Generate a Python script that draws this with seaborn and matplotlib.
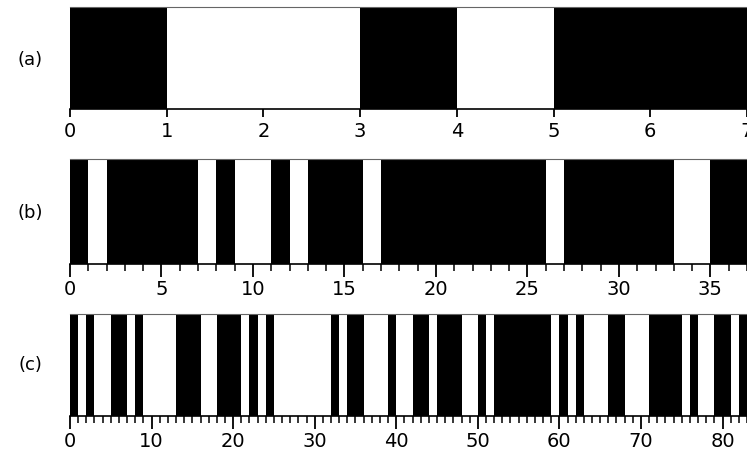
import numpy as np
import seaborn as sns
import matplotlib
matplotlib.use('Agg')
import matplotlib.pyplot as plt
from matplotlib.colors import ListedColormap

# Sequence lengths and the cells that are white (all other cells are black)
length_a = 7
white_a = [1, 2, 4]

length_b = 37
white_b = [1, 7, 9, 10, 12, 16, 26, 33, 34]

length_c = 83
white_c = [1, 3, 4, 7, 9, 10, 11, 12, 16, 17, 21, 23, 25, 26, 27, 28, 29, 30, 31,
           33, 36, 37, 38, 40, 41, 44, 48, 49, 51, 59, 61, 63, 64, 65, 68, 69, 70,
           75, 77, 78, 81]

panel_names = ['(a)', '(b)', '(c)']
label_steps = [1, 5, 10]

sns.set_style('white')
plt.rcParams['font.family'] = ['DejaVu Sans']
plt.rcParams['text.color'] = 'black'
plt.rcParams['xtick.color'] = 'black'
plt.rcParams['xtick.labelcolor'] = 'black'

fig = plt.figure(figsize=(7.47, 4.60), dpi=100)

# axes boxes in figure fractions [left, bottom, width, height]
boxes = [[0.0937, 0.761, 0.9063, 0.222],
         [0.0937, 0.424, 0.9063, 0.228],
         [0.0937, 0.0935, 0.9063, 0.222]]
name_y = [1 - 60 / 460, 1 - 213 / 460, 1 - 365 / 460]

cmap = ListedColormap(['black', 'white'])

for i, (n, whites) in enumerate([(length_a, white_a), (length_b, white_b), (length_c, white_c)]):
    ax = fig.add_axes(boxes[i])
    seq = np.zeros(n)
    seq[whites] = 1
    sns.heatmap(seq.reshape(1, -1), cmap=cmap, vmin=0, vmax=1, cbar=False,
                xticklabels=False, yticklabels=False, ax=ax)

    step = label_steps[i]
    major = np.arange(0, n + 1, step)
    ax.set_xticks(major)
    ax.set_xticklabels([str(v) for v in major])
    if step > 1:
        ax.set_xticks(np.arange(0, n + 1), minor=True)
        ax.tick_params(axis='x', which='major', length=9, width=1.3, pad=2,
                       labelsize=14, color='black', labelcolor='black', bottom=True)
        ax.tick_params(axis='x', which='minor', length=5, width=1.1,
                       color='black', bottom=True)
    else:
        ax.tick_params(axis='x', which='major', length=6, width=1.3, pad=3,
                       labelsize=14, color='black', labelcolor='black', bottom=True)
    ax.set_yticks([])
    ax.set_xlim(0, n)

    for side in ['top', 'bottom']:
        ax.spines[side].set_visible(True)
    ax.spines['bottom'].set_color('black')
    ax.spines['bottom'].set_linewidth(1.2)
    ax.spines['top'].set_color('#666666')
    ax.spines['top'].set_linewidth(0.8)
    ax.spines['left'].set_visible(False)
    ax.spines['right'].set_visible(False)

    fig.text(30 / 747, name_y[i], panel_names[i], ha='center', va='center',
             fontsize=13, color='black')

fig.savefig('out.png', dpi=100)
